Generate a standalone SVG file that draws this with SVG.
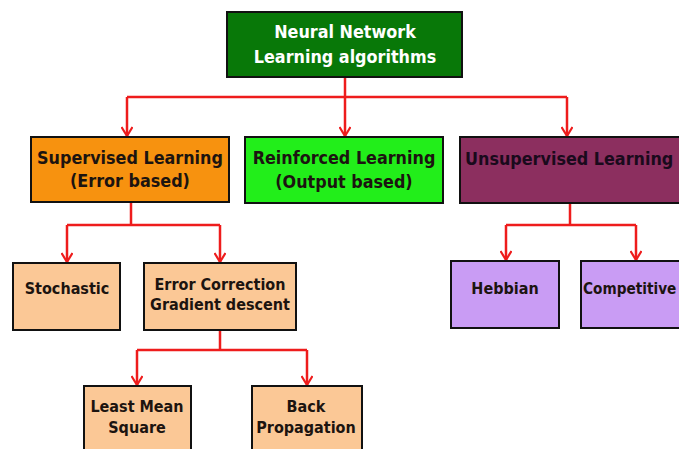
<svg xmlns="http://www.w3.org/2000/svg" width="679" height="449" viewBox="0 0 679 449">
  <style>
    .box { stroke: #111; stroke-width: 2; }
    .lbl { font-family: "DejaVu Sans Condensed", "DejaVu Sans", sans-serif; font-stretch: condensed; font-weight: bold; font-size: 17.8px; fill: #1c1410; text-anchor: middle; }
    .sm { font-size: 16px; }
    .wire { fill: none; stroke: #ee1c1c; stroke-width: 2.5; }
    .root { fill: #087808; }
    .orange { fill: #f7920f; }
    .lime { fill: #22ee1a; }
    .plum { fill: #8c2f5f; }
    .peach { fill: #fbc896; }
    .lilac { fill: #c99cf4; }
  </style>
  <defs>
    <!-- open chevron arrowhead, drawn pointing along +x -->
    <marker id="chev" viewBox="0 0 12 12" refX="11" refY="6" markerWidth="12" markerHeight="12" markerUnits="userSpaceOnUse" orient="auto">
      <polyline points="2,0.5 11,6 2,11.5" fill="none" stroke="#ee1c1c" stroke-width="2.2"/>
    </marker>
  </defs>

  <rect x="0" y="0" width="679" height="449" fill="#ffffff"/>

  <g id="connectors">
    <!-- root to the three learning families -->
    <path class="wire" d="M345,77 V97"/>
    <path class="wire" d="M127,97 H567"/>
    <path class="wire" d="M127,97 V136" marker-end="url(#chev)"/>
    <path class="wire" d="M345,97 V136" marker-end="url(#chev)"/>
    <path class="wire" d="M567,97 V136" marker-end="url(#chev)"/>
    <!-- supervised branch -->
    <path class="wire" d="M131,203 V225 M67,225 H220"/>
    <path class="wire" d="M67,225 V262" marker-end="url(#chev)"/>
    <path class="wire" d="M220,225 V262" marker-end="url(#chev)"/>
    <!-- error correction branch -->
    <path class="wire" d="M220,330 V350 M137,350 H307"/>
    <path class="wire" d="M137,350 V385" marker-end="url(#chev)"/>
    <path class="wire" d="M307,350 V385" marker-end="url(#chev)"/>
    <!-- unsupervised branch -->
    <path class="wire" d="M570,203 V225 M506,225 H636"/>
    <path class="wire" d="M506,225 V260" marker-end="url(#chev)"/>
    <path class="wire" d="M636,225 V260" marker-end="url(#chev)"/>
  </g>

  <g id="root">
    <rect class="box root" x="227" y="12" width="235" height="65"/>
    <text class="lbl" x="345" y="38" style="fill:#ffffff">Neural Network</text>
    <text class="lbl" x="345" y="63" style="fill:#ffffff">Learning algorithms</text>
  </g>

  <g id="supervised">
    <rect class="box orange" x="31" y="137" width="198" height="65"/>
    <text class="lbl" x="130" y="164">Supervised Learning</text>
    <text class="lbl" x="130" y="187">(Error based)</text>
  </g>

  <g id="reinforced">
    <rect class="box lime" x="245" y="137" width="198" height="66"/>
    <text class="lbl" x="344" y="164">Reinforced Learning</text>
    <text class="lbl" x="344" y="188">(Output based)</text>
  </g>

  <g id="unsupervised">
    <rect class="box plum" x="460" y="137" width="230" height="66"/>
    <text class="lbl" x="465" y="165" style="text-anchor:start;fill:#1a0a1c">Unsupervised Learning</text>
  </g>

  <g id="stochastic">
    <rect class="box peach" x="13" y="263" width="107" height="67"/>
    <text class="lbl sm" x="67" y="294">Stochastic</text>
  </g>

  <g id="error-correction">
    <rect class="box peach" x="144" y="263" width="152" height="67"/>
    <text class="lbl sm" x="220" y="290">Error Correction</text>
    <text class="lbl sm" x="220" y="310">Gradient descent</text>
  </g>

  <g id="least-mean-square">
    <rect class="box peach" x="84" y="386" width="107" height="80"/>
    <text class="lbl sm" x="137" y="412">Least Mean</text>
    <text class="lbl sm" x="137" y="433">Square</text>
  </g>

  <g id="back-propagation">
    <rect class="box peach" x="252" y="386" width="110" height="80"/>
    <text class="lbl sm" x="306" y="412">Back</text>
    <text class="lbl sm" x="306" y="433">Propagation</text>
  </g>

  <g id="hebbian">
    <rect class="box lilac" x="451" y="261" width="108" height="67"/>
    <text class="lbl sm" x="505" y="294">Hebbian</text>
  </g>

  <g id="competitive">
    <rect class="box lilac" x="581" y="261" width="110" height="67"/>
    <text class="lbl" x="583" y="294" style="text-anchor:start;font-size:15.2px">Competitive</text>
  </g>
</svg>
